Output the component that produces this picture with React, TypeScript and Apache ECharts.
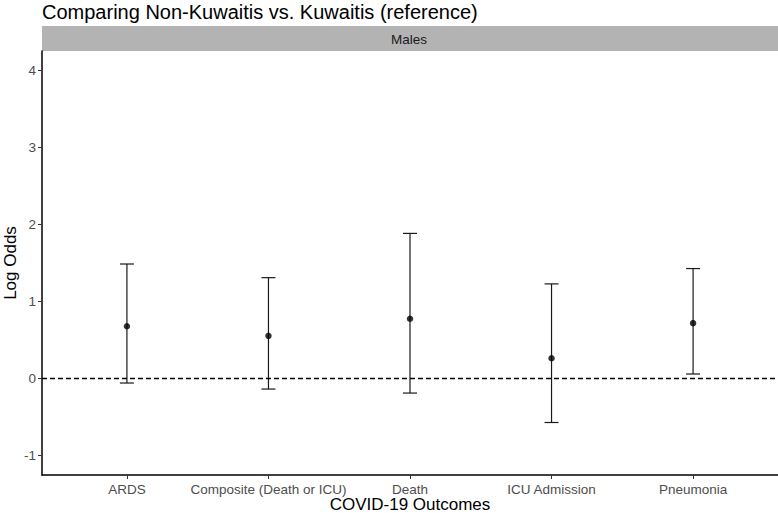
import React, { useEffect, useRef } from "react";
import * as echarts from "echarts";

const categories = ["ARDS", "Composite (Death or ICU)", "Death", "ICU Admission", "Pneumonia"];
const estimates = [0.68, 0.555, 0.777, 0.264, 0.72];
const lower = [-0.057, -0.135, -0.187, -0.569, 0.06];
const upper = [1.487, 1.31, 1.884, 1.229, 1.428];
const yTicks = [-1, 0, 1, 2, 3, 4];
const xTicks = [0, 1, 2, 3, 4];
const titleText = "Comparing Non-Kuwaitis vs. Kuwaitis (reference)";
const stripText = "Males";

export default function App() {
  const ref = useRef<HTMLDivElement>(null);
  useEffect(() => {
    document.body.style.margin = "0";
    const chart = echarts.init(ref.current!, null, { renderer: "svg" });
    const font = "Liberation Sans, Arial, sans-serif";
    const errData = categories.map((_, i) => [i, lower[i], upper[i]]);
    const ptData = categories.map((_, i) => [i, estimates[i]]);
    chart.setOption({
      animation: false,
      textStyle: { fontFamily: font },
      title: {
        text: titleText,
        left: 37,
        top: -3,
        textStyle: { fontFamily: font, fontSize: 20, fontWeight: "normal", color: "#000" },
      },
      grid: { left: 42, right: 0, top: 51, bottom: 38, containLabel: false, outerBoundsMode: "none" },
      graphic: [
        {
          type: "rect",
          shape: { x: 42, y: 26, width: 736, height: 25 },
          style: { fill: "#b3b3b3" },
          silent: true,
        },
        {
          type: "text",
          x: 409,
          y: 39,
          style: {
            text: stripText,
            fontFamily: font,
            fontSize: 13.5,
            fill: "#1a1a1a",
            align: "center",
            verticalAlign: "middle",
          },
          silent: true,
        },
      ],
      xAxis: {
        type: "value",
        min: -0.6,
        max: 4.6,
        name: "COVID-19 Outcomes",
        nameLocation: "middle",
        nameGap: 21,
        nameMoveOverlap: false,
        nameTextStyle: { fontFamily: font, fontSize: 17, color: "#000" },
        axisLine: { show: true, onZero: false, lineStyle: { color: "#000", width: 1.5 } },
        axisTick: { show: true, customValues: xTicks, length: 4, lineStyle: { color: "#333", width: 1 } },
        axisLabel: {
          customValues: xTicks,
          formatter: (v: number) => categories[Math.round(v)] ?? "",
          color: "#4d4d4d",
          fontSize: 13.5,
          fontFamily: font,
          margin: 7,
        },
        splitLine: { show: false },
      },
      yAxis: {
        type: "value",
        min: -1.25,
        max: 4.25,
        name: "Log Odds",
        nameLocation: "middle",
        nameGap: 23,
        nameMoveOverlap: false,
        nameTextStyle: { fontFamily: font, fontSize: 17, color: "#000" },
        axisLine: { show: true, onZero: false, lineStyle: { color: "#000", width: 1.5 } },
        axisTick: { show: true, customValues: yTicks, length: 4, lineStyle: { color: "#333", width: 1 } },
        axisLabel: {
          customValues: yTicks,
          color: "#4d4d4d",
          fontSize: 13.5,
          fontFamily: font,
          margin: 6,
        },
        splitLine: { show: false },
      },
      series: [
        {
          type: "custom",
          data: errData,
          renderItem: (params: any, api: any) => {
            const x = api.value(0);
            const lo = api.coord([x, api.value(1)]);
            const hi = api.coord([x, api.value(2)]);
            const hw = 7;
            const st = { stroke: "#1a1a1a", lineWidth: 1.2 };
            return {
              type: "group",
              children: [
                { type: "line", shape: { x1: lo[0], y1: lo[1], x2: hi[0], y2: hi[1] }, style: st },
                { type: "line", shape: { x1: lo[0] - hw, y1: lo[1], x2: lo[0] + hw, y2: lo[1] }, style: st },
                { type: "line", shape: { x1: hi[0] - hw, y1: hi[1], x2: hi[0] + hw, y2: hi[1] }, style: st },
              ],
            };
          },
          z: 2,
          markLine: {
            silent: true,
            symbol: "none",
            label: { show: false },
            lineStyle: { color: "#000", type: [5, 3], width: 1.3 },
            data: [{ yAxis: 0 }],
          },
        },
        {
          type: "scatter",
          data: ptData,
          symbol: "circle",
          symbolSize: 6.5,
          itemStyle: { color: "#000" },
          z: 3,
        },
      ],
    });
    return () => chart.dispose();
  }, []);
  return <div ref={ref} style={{ width: 778, height: 513 }} />;
}
